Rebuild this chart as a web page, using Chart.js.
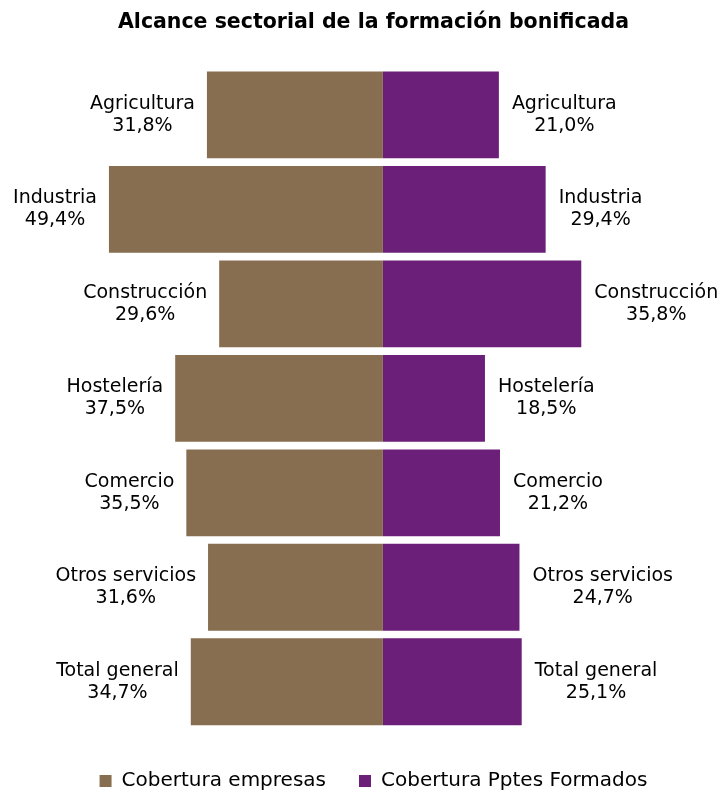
<!DOCTYPE html>
<html>
<head>
<meta charset="utf-8">
<script src="https://cdn.jsdelivr.net/npm/chart.js@4/dist/chart.umd.min.js"></script>
<style>
  html, body { margin: 0; padding: 0; background: #fff; }
  #wrap { width: 717px; height: 792px; }
</style>
</head>
<body>
<div id="wrap"><canvas id="chart"></canvas></div>
<script>
// categories and values (percent)
const sectores = ['Agricultura', 'Industria', 'Construcción', 'Hostelería', 'Comercio', 'Otros servicios', 'Total general'];
const coberturaEmpresas = [31.8, 49.4, 29.6, 37.5, 35.5, 31.6, 34.7];
const coberturaFormados = [21.0, 29.4, 35.8, 18.5, 21.2, 24.7, 25.1];

const colEmpresas = '#876e50';
const colFormados = '#6b1f78';
const fontFam = '"DejaVu Sans", Verdana, sans-serif';

const fmt = v => v.toFixed(1).replace('.', ',') + '%';

// labels beside each bar end: name + value
const sideLabels = {
    id: 'sideLabels',
    afterDatasetsDraw(chart) {
        const ctx = chart.ctx;
        ctx.save();
        ctx.font = '19px ' + fontFam;
        ctx.fillStyle = '#000';
        ctx.textAlign = 'center';
        ctx.textBaseline = 'middle';
        chart.data.datasets.forEach((ds, di) => {
            const meta = chart.getDatasetMeta(di);
            meta.data.forEach((bar, i) => {
                const name = sectores[i];
                const val = fmt(Math.abs(ds.data[i]));
                const w = Math.max(ctx.measureText(name).width, ctx.measureText(val).width);
                let cx;
                if (ds.data[i] < 0) cx = bar.x - 11 - w / 2;
                else cx = bar.x + 12 + w / 2;
                ctx.fillText(name, cx, bar.y - 11);
                ctx.fillText(val, cx, bar.y + 11);
            });
        });
        ctx.restore();
    }
};

new Chart(document.getElementById('chart'), {
    type: 'bar',
    data: {
        labels: sectores,
        datasets: [{
            label: 'Cobertura empresas',
            data: coberturaEmpresas.map(v => -v),
            backgroundColor: colEmpresas,
            borderColor: '#ffffff',
            borderWidth: 1,
            barPercentage: 0.94,
            categoryPercentage: 1
        }, {
            label: 'Cobertura Pptes Formados',
            data: coberturaFormados,
            backgroundColor: colFormados,
            borderColor: '#ffffff',
            borderWidth: 1,
            barPercentage: 0.94,
            categoryPercentage: 1
        }]
    },
    options: {
        indexAxis: 'y',
        responsive: true,
        maintainAspectRatio: false,
        animation: false,
        layout: { padding: { left: 30, right: 0, top: 0, bottom: -9 } },
        scales: {
            x: {
                stacked: true, min: -63.4, max: 60.0,
                ticks: { display: false },
                grid: { display: false },
                border: { display: false },
                afterFit(scale) { scale.height = 9; }
            },
            y: { display: false, stacked: true }
        },
        plugins: {
            title: {
                display: true,
                text: 'Alcance sectorial de la formación bonificada',
                color: '#000',
                font: { family: fontFam, size: 20.5, weight: 'bold' },
                padding: { top: 10, bottom: 33 }
            },
            legend: {
                position: 'bottom',
                labels: {
                    color: '#000',
                    boxWidth: 12,
                    boxHeight: 12,
                    padding: 33,
                    font: { family: fontFam, size: 20 },
                    generateLabels(chart) {
                        return chart.data.datasets.map((ds, i) => ({
                            text: ds.label,
                            fillStyle: ds.backgroundColor,
                            strokeStyle: ds.backgroundColor,
                            lineWidth: 0,
                            datasetIndex: i,
                            fontColor: '#000'
                        }));
                    }
                }
            },
            tooltip: { enabled: false }
        }
    },
    plugins: [sideLabels]
});
</script>
</body>
</html>
